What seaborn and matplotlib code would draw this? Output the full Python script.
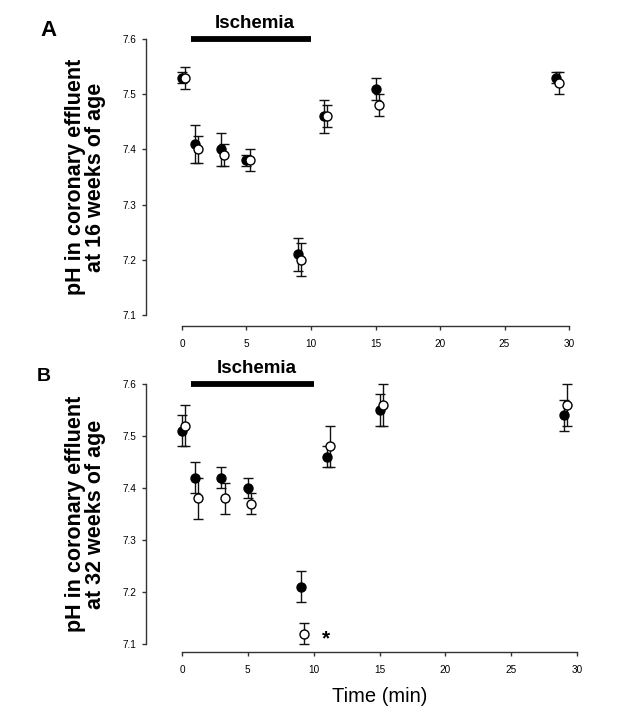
import numpy as np
import pandas as pd
import matplotlib
matplotlib.use("Agg")
import matplotlib.pyplot as plt
import seaborn as sns

# ==========================
# Data
# ==========================
time_min = [0, 1, 3, 5, 9, 11, 15, 29]

# Panel A - 16 weeks of age
ph16_filled = [7.53, 7.41, 7.40, 7.38, 7.21, 7.46, 7.51, 7.53]
err16_filled = [0.01, 0.035, 0.03, 0.01, 0.03, 0.03, 0.02, 0.01]
ph16_open = [7.53, 7.40, 7.39, 7.38, 7.20, 7.46, 7.48, 7.52]
err16_open = [0.02, 0.025, 0.02, 0.02, 0.03, 0.02, 0.02, 0.02]

# Panel B - 32 weeks of age
ph32_filled = [7.51, 7.42, 7.42, 7.40, 7.21, 7.46, 7.55, 7.54]
err32_filled = [0.03, 0.03, 0.02, 0.02, 0.03, 0.02, 0.03, 0.03]
ph32_open = [7.52, 7.38, 7.38, 7.37, 7.12, 7.48, 7.56, 7.56]
err32_open = [0.04, 0.04, 0.03, 0.02, 0.02, 0.04, 0.04, 0.04]

ischemia_start, ischemia_end = 0.7, 10
y_ticks = [7.1, 7.2, 7.3, 7.4, 7.5, 7.6]
x_ticks = [0, 5, 10, 15, 20, 25, 30]

# ==========================
# Style
# ==========================
sns.set_style("ticks")
plt.rcParams["font.family"] = ["Liberation Sans", "DejaVu Sans"]
plt.rcParams["text.color"] = "black"
plt.rcParams["axes.labelcolor"] = "black"

DODGE = 0.25


def make_frame(ph_f, err_f, ph_o, err_o):
    df_f = pd.DataFrame({"time": time_min, "ph": ph_f, "err": err_f, "group": "filled"})
    df_o = pd.DataFrame({"time": np.array(time_min) + DODGE, "ph": ph_o, "err": err_o, "group": "open"})
    return pd.concat([df_f, df_o], ignore_index=True)


def draw_panel(ax, df, ylabel, bottom_offset):
    for grp, face in [("filled", "black"), ("open", "white")]:
        sub = df[df["group"] == grp]
        ax.errorbar(sub["time"], sub["ph"], yerr=sub["err"], fmt="none",
                    ecolor="#111111", elinewidth=1.0, capsize=3.5,
                    capthick=1.0, clip_on=False, zorder=2)
        sns.scatterplot(data=sub, x="time", y="ph", ax=ax, color=face,
                        edgecolor="black", linewidth=1.0, s=42,
                        clip_on=False, zorder=3, legend=False)

    # ischemia bar
    ax.plot([ischemia_start, ischemia_end], [7.6, 7.6], color="black",
            lw=4.2, solid_capstyle="butt", clip_on=False)
    ax.annotate("Ischemia", xy=((ischemia_start + ischemia_end) / 2 + 0.3, 7.6),
                xytext=(0, 5), textcoords="offset points", ha="center",
                va="bottom", fontsize=13.5, fontweight="bold", color="black")

    ax.set_xlim(0, 30)
    ax.set_ylim(7.1, 7.6)
    ax.set_xticks(x_ticks)
    ax.set_xticklabels([str(v) for v in x_ticks], fontweight="bold")
    ax.set_yticks(y_ticks)
    ax.set_yticklabels([f"{v:.1f}" for v in y_ticks], fontweight="bold")
    ax.tick_params(axis="both", length=3, width=1, color="#333333",
                   labelsize=7.2, labelcolor="black")
    ax.tick_params(axis="y", pad=4)
    ax.tick_params(axis="x", pad=6)

    sns.despine(ax=ax)
    ax.spines["left"].set_position(("outward", 26))
    ax.spines["bottom"].set_position(("outward", bottom_offset))
    for sp in ["left", "bottom"]:
        ax.spines[sp].set_color("#333333")
        ax.spines[sp].set_linewidth(1.0)

    ax.set_xlabel("")
    ax.set_ylabel(ylabel, fontsize=15.5, fontweight="bold", linespacing=0.95)

    return ax


# ==========================
# Figure
# ==========================
fig = plt.figure(figsize=(6.42, 7.18), dpi=100)

ax_a = fig.add_axes([182 / 642, 1 - 315 / 718, 387 / 642, 276 / 718])
ax_b = fig.add_axes([182 / 642, 1 - 644 / 718, 395 / 642, 260 / 718])

draw_panel(ax_a, make_frame(ph16_filled, err16_filled, ph16_open, err16_open),
           "pH in coronary effluent\nat 16 weeks of age", 8)
draw_panel(ax_b, make_frame(ph32_filled, err32_filled, ph32_open, err32_open),
           "pH in coronary effluent\nat 32 weeks of age", 6)

ax_a.yaxis.set_label_coords((106 - 182) / 387, 0.5)
ax_b.yaxis.set_label_coords((106 - 182) / 395, 0.5)

# significance marker next to the open circle at 9 min (32 weeks)
ax_b.annotate("*", xy=(time_min[4] + DODGE, ph32_open[4]), xytext=(16, -4),
              textcoords="offset points", ha="center", va="center",
              fontsize=15, fontweight="bold", color="black")

ax_b.set_xlabel("Time (min)", fontsize=14.5, labelpad=9)

fig.text(40 / 642, 1 - 36 / 718, "A", fontsize=16, fontweight="bold", ha="left", va="baseline")
fig.text(37 / 642, 1 - 381 / 718, "B", fontsize=14, fontweight="bold", ha="left", va="baseline")

fig.savefig("out.png", dpi=100)
